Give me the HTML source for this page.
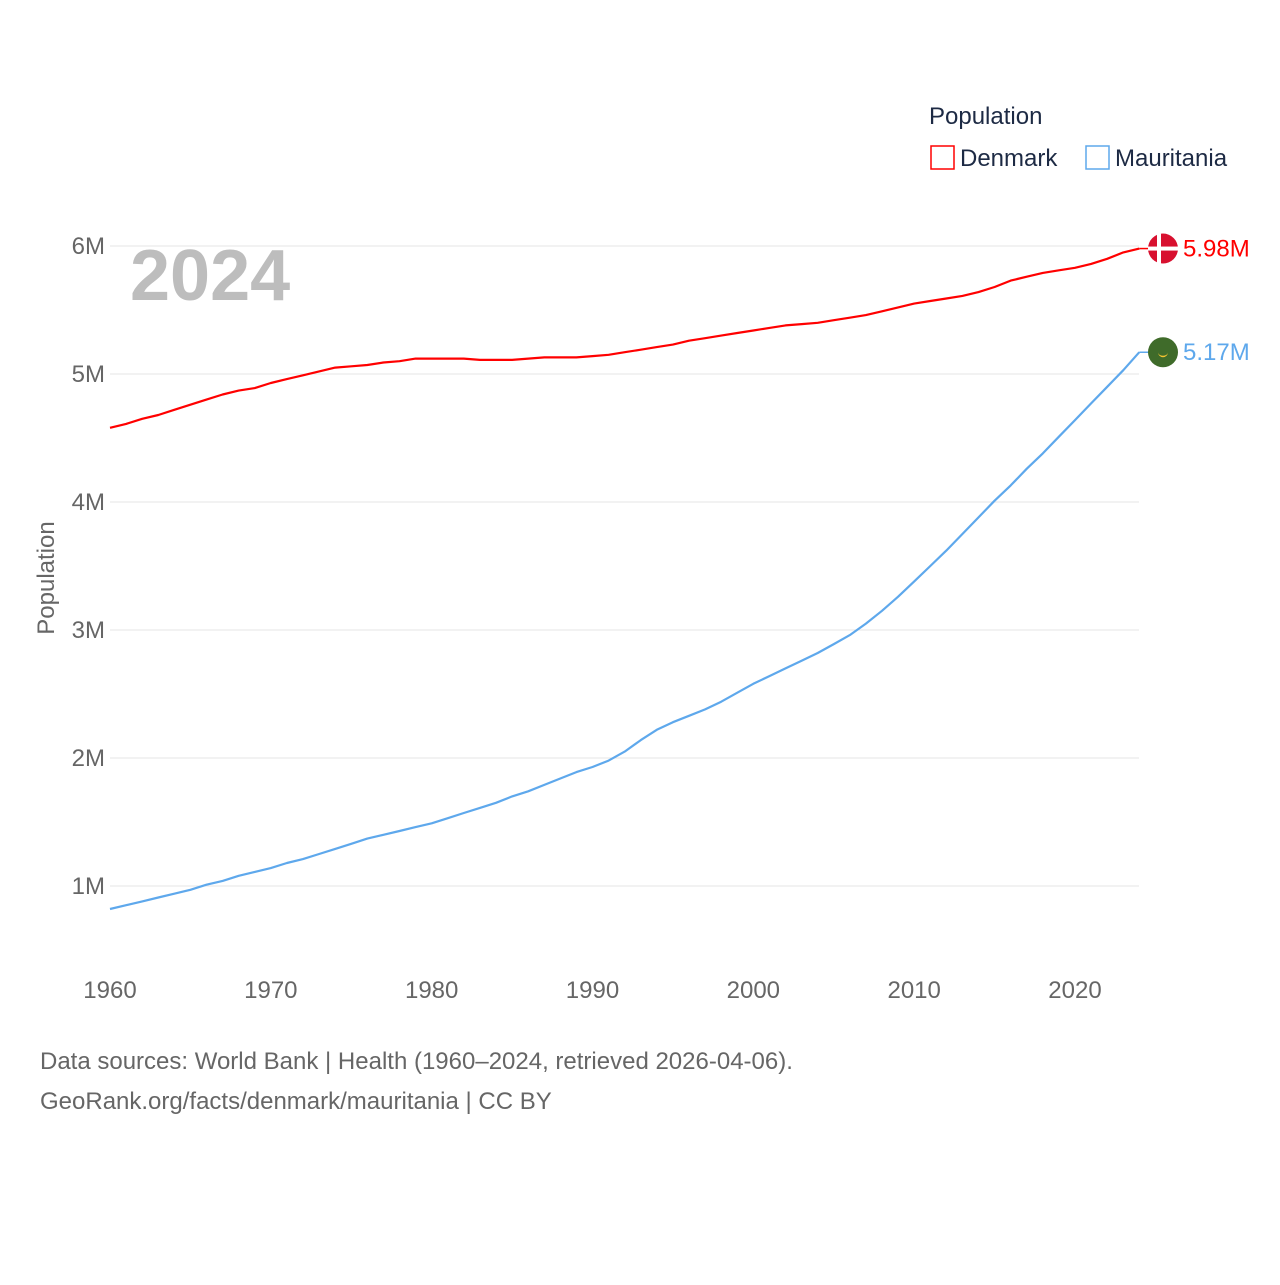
<!DOCTYPE html>
<html><head><meta charset="utf-8"><style>
body{margin:0;background:#fff;font-family:"Liberation Sans",sans-serif}
svg text{font-family:"Liberation Sans",sans-serif}
</style></head><body>
<svg width="1280" height="1280">
<g id="grid"></g><g id="axes"></g>
<text x="130" y="300" font-size="72" font-weight="bold" fill="#bdbdbd">2024</text>
<text x="54" y="578" font-size="24" fill="#666" text-anchor="middle" transform="rotate(-90 54 578)">Population</text>
<g id="series"></g>
<g>
<text x="929" y="124" font-size="24" fill="#1d2a44">Population</text>
<g><rect x="931" y="146" width="23" height="23" fill="none" stroke="#f00" stroke-width="1.5"/><text x="960" y="166" font-size="24" fill="#1d2a44">Denmark</text></g>
<g><rect x="1086" y="146" width="23" height="23" fill="none" stroke="#5ea8ec" stroke-width="1.5"/><text x="1115" y="166" font-size="24" fill="#1d2a44">Mauritania</text></g>
</g>
<text x="40" y="1069" font-size="24" fill="#666">Data sources: World Bank | Health (1960–2024, retrieved 2026-04-06).</text>
<text x="40" y="1109" font-size="24" fill="#666">GeoRank.org/facts/denmark/mauritania | CC BY</text>
</svg>
<script>
const years=[];for(let y=1960;y<=2024;y++)years.push(y);
const denmark=[4.58,4.61,4.65,4.68,4.72,4.76,4.80,4.84,4.87,4.89,4.93,4.96,4.99,5.02,5.05,5.06,5.07,5.09,5.10,5.12,5.12,5.12,5.12,5.11,5.11,5.11,5.12,5.13,5.13,5.13,5.14,5.15,5.17,5.19,5.21,5.23,5.26,5.28,5.30,5.32,5.34,5.36,5.38,5.39,5.40,5.42,5.44,5.46,5.49,5.52,5.55,5.57,5.59,5.61,5.64,5.68,5.73,5.76,5.79,5.81,5.83,5.86,5.90,5.95,5.98];
const mauritania=[0.82,0.85,0.88,0.91,0.94,0.97,1.01,1.04,1.08,1.11,1.14,1.18,1.21,1.25,1.29,1.33,1.37,1.40,1.43,1.46,1.49,1.53,1.57,1.61,1.65,1.70,1.74,1.79,1.84,1.89,1.93,1.98,2.05,2.14,2.22,2.28,2.33,2.38,2.44,2.51,2.58,2.64,2.70,2.76,2.82,2.89,2.96,3.05,3.15,3.26,3.38,3.50,3.62,3.75,3.88,4.01,4.13,4.26,4.38,4.51,4.64,4.77,4.90,5.03,5.17];
const yTicks=[1,2,3,4,5,6];const xTicks=[1960,1970,1980,1990,2000,2010,2020];
const NS="http://www.w3.org/2000/svg";
const X=y=>110+(y-1960)*(1075-110)/60;
const Y=v=>1014-v*128;
function mk(t,a,p){const e=document.createElementNS(NS,t);for(const k in a)e.setAttribute(k,a[k]);p.appendChild(e);return e;}
const grid=document.getElementById('grid'),axes=document.getElementById('axes'),ser=document.getElementById('series');
yTicks.forEach(v=>{
 const l=mk('line',{x1:110,x2:1139,y1:Y(v),y2:Y(v),stroke:'#e6e6e6','stroke-width':1},grid);
 
 
 const t=mk('text',{x:105,y:Y(v)+8,'font-size':24,fill:'#666','text-anchor':'end'},axes);t.textContent=v+'M';
 
 
});
xTicks.forEach(v=>{
 const t=mk('text',{x:X(v),y:998,'font-size':24,fill:'#666','text-anchor':'middle'},axes);t.textContent=v;
 
 
});
function series(vals,col,name,label){
 const d=vals.map((v,i)=>(i?'L':'M')+X(years[i]).toFixed(1)+','+Y(v).toFixed(1)).join('');
 const p=mk('path',{d:d,fill:'none',stroke:col,'stroke-width':2.2,'stroke-linejoin':'round'},ser);
 
 
 const lv=vals[vals.length-1],ly=Y(lv),lx=X(2024);
 mk('line',{x1:lx,x2:lx+12,y1:ly,y2:ly,stroke:col,'stroke-width':1.5},ser);
 const t=mk('text',{x:1183,y:ly+8,'font-size':24,fill:col},ser);t.textContent=label;
 
 
 return ly;
}
const dy=series(denmark,'#ff0000','denmark','5.98M');
const my=series(mauritania,'#5ea8ec','mauritania','5.17M');
const f1=mk('g',{},ser);


mk('circle',{cx:1163,cy:dy,r:15,fill:'#d8102f'},f1);
mk('rect',{x:1157,y:dy-15,width:4,height:30,fill:'#fff'},f1);
mk('rect',{x:1148,y:dy-2,width:30,height:4,fill:'#fff'},f1);
const f2=mk('g',{},ser);


mk('circle',{cx:1163,cy:my,r:15,fill:'#3f6b2a'},f2);
mk('path',{d:`M${1158},${my} a5,5 0 0 0 10,0 a5,3.5 0 0 1 -10,0z`,fill:'#f4c430'},f2);
</script>
</body></html>
